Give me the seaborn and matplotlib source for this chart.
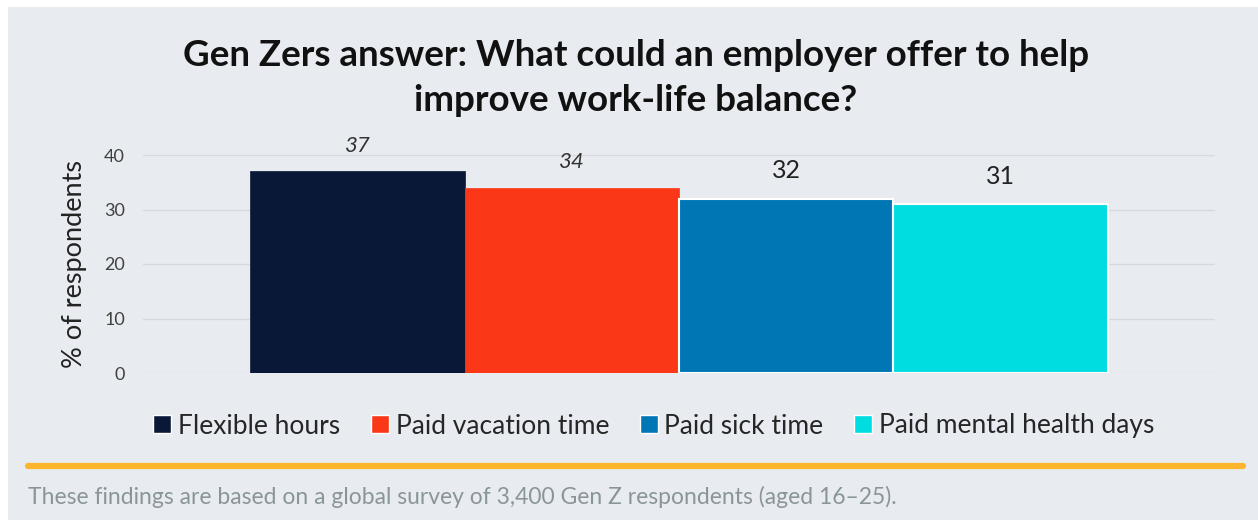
import matplotlib
matplotlib.use("Agg")
import matplotlib.pyplot as plt
import seaborn as sns
import pandas as pd
from matplotlib.lines import Line2D
from matplotlib.patches import Rectangle

categories = ["Flexible hours", "Paid vacation time", "Paid sick time", "Paid mental health days"]
values = [37, 34, 32, 31]
colors = ["#0A1838", "#FA3818", "#0077B4", "#00DDE0"]
label_italic = [True, True, False, False]
yticks = [0, 10, 20, 30, 40]
title = "Gen Zers answer: What could an employer offer to help\nimprove work-life balance?"
footnote = "These findings are based on a global survey of 3,400 Gen Z respondents (aged 16\u201325)."

sns.set_theme(style="white")
FONT = ["Lato", "DejaVu Sans"]
plt.rcParams["font.family"] = FONT

BG = "#E8ECF0"
fig = plt.figure(figsize=(12.58, 5.2), dpi=100)
fig.patch.set_facecolor("white")
fig.patches.append(Rectangle((8/1258, 0), 1, 1 - 7/520, transform=fig.transFigure,
                             facecolor=BG, edgecolor="none", zorder=-10))

ax = fig.add_axes([143/1258, 1 - 373/520, (1215 - 143)/1258, (373 - 155)/520])
ax.set_facecolor(BG)

df = pd.DataFrame({"cat": categories, "val": values})
sns.barplot(data=df, x="cat", y="val", hue="cat", palette=colors, width=1.0,
            legend=False, ax=ax, saturation=1)

for i, p in enumerate(ax.patches):
    if i >= 2:
        p.set_edgecolor("white")
        p.set_linewidth(1.5)
    else:
        p.set_edgecolor(colors[i])
        p.set_linewidth(0.5)
    p.set_zorder(3)

ax.set_xlim(-1, 4)
ax.set_ylim(0, 40)
ax.set_yticks(yticks)
ax.set_yticklabels([str(t) for t in yticks], fontsize=13, color="#404040")
ax.set_xticks([])
ax.set_xlabel("")
ax.set_ylabel("% of respondents", fontsize=19.5, color="#222222", labelpad=12)
ax.grid(axis="y", color="#D6D9DD", linewidth=1, zorder=0)
ax.set_axisbelow(True)
for s in ax.spines.values():
    s.set_visible(False)
ax.tick_params(axis="y", length=0, pad=13)

for i, v in enumerate(values):
    if label_italic[i]:
        ax.annotate(str(v), (i, v), xytext=(0, 18.5), textcoords="offset points",
                    ha="center", va="center", fontsize=16, fontstyle="italic",
                    color="#333333")
    else:
        ax.annotate(str(v), (i, v), xytext=(0, 20), textcoords="offset points",
                    ha="center", va="center", fontsize=18, color="#222222")

fig.text(0.5055, 1 - 78/520, title, ha="center", va="center", fontsize=26.5,
         fontweight="bold", color="#111111", linespacing=1.42)

handles = [Line2D([0], [0], marker="s", linestyle="none", markersize=13,
                  markerfacecolor=c, markeredgecolor="white", markeredgewidth=1)
           for c in colors]
fig.legend(handles, categories, loc="center", bbox_to_anchor=(0.518, 1 - 426/520),
           ncol=4, frameon=False, fontsize=19, handletextpad=0.1, columnspacing=1.0,
           handlelength=1.0)

fig.add_artist(Line2D([28/1258, 1243/1258], [1 - 466/520, 1 - 466/520],
                      transform=fig.transFigure, color="#FDB52D", linewidth=4.5))

fig.text(28/1258, 1 - 497/520, footnote, ha="left", va="center", fontsize=16.5,
         color="#8A959B")

fig.savefig("out.png", dpi=100, facecolor=fig.get_facecolor())
